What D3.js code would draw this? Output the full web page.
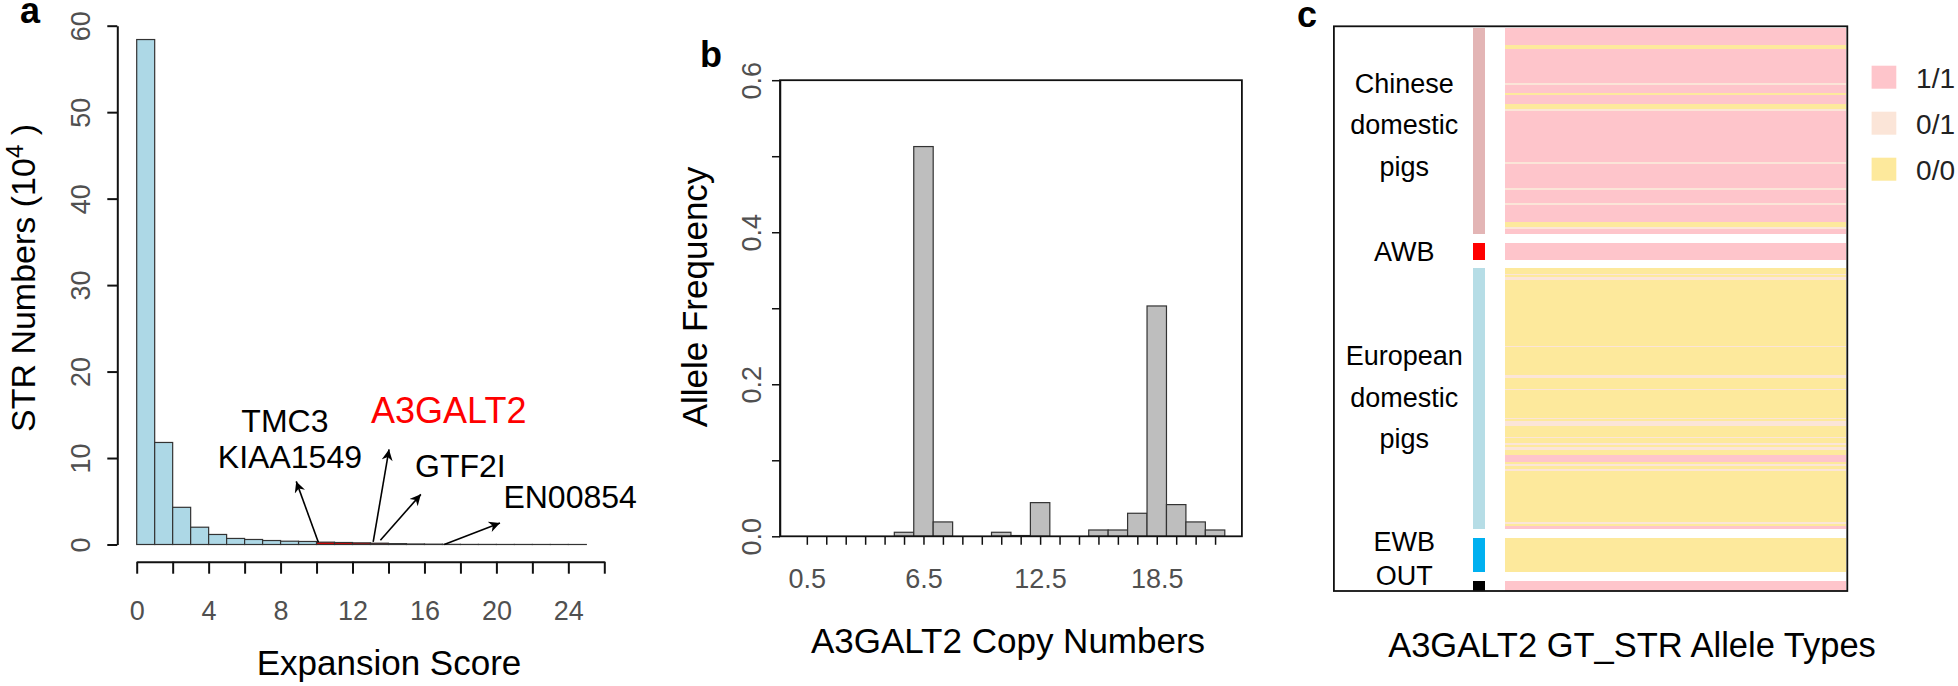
<!DOCTYPE html>
<html>
<head>
<meta charset="utf-8">
<script src="https://cdn.jsdelivr.net/npm/d3@7"></script>
<style>
body { margin: 0; background: #fff; }
svg { display: block; font-family: "Liberation Sans", Arial, Helvetica, sans-serif; }
</style>
</head>
<body>
<div id="fig"></div>
<script>

// ---- panel a : expansion score histogram (counts in 10^4)
var scoreBins = [0,1,2,3,4,5,6,7,8,9,10,11,12,13,14,15,16,17,18,19,20,21,22,23,24];
var strCounts = [58.4,11.8,4.3,2.0,1.16,0.7,0.58,0.46,0.38,0.35,0.27,0.23,0.19,0.15,0.1,0.06,0.04,0.02,0.01,0.01,0.005,0.005,0.003,0.002,0.001];
var redBins = [10,11,12,13];
var scoreTicks = [0,2,4,6,8,10,12,14,16,18,20,22,24,26];
var countTicks = [0,10,20,30,40,50,60];

var geneLabels = ["TMC3","KIAA1549","A3GALT2","GTF2I","EN00854"];
var geneLabelX = [8.24, 8.52, 17.35, 18.0, 24.1];
var geneLabelY = [13.0, 8.84, 14.05, 7.84, 4.2];
var geneColors = ["#000","#000","#ff0000","#000","#000"];
var arrowFrom = [[10.1,0.25],[13.15,0.3],[13.55,0.5],[17.1,0]];
var arrowTo   = [[8.87,7.3],[14.03,11.0],[15.8,5.8],[20.2,2.5]];

// ---- panel b : copy number frequencies
var copyNumbers = [0.5,1.5,2.5,3.5,4.5,5.5,6.5,7.5,8.5,9.5,10.5,11.5,12.5,13.5,14.5,15.5,16.5,17.5,18.5,19.5,20.5,21.5];
var alleleFreq  = [0,0,0,0,0,0.0053,0.5127,0.0189,0,0,0.0053,0.001,0.0443,0,0,0.0083,0.0083,0.0303,0.303,0.0417,0.0189,0.0083];
var copyLabels = [0.5,6.5,12.5,18.5];
var freqTicks = [0,0.1,0.2,0.3,0.4,0.5,0.6];

// ---- panel c : genotype runs per group (rows of samples)
var groups = ["Chinese domestic pigs","AWB","European domestic pigs","EWB","OUT"];
var groupColors = ["#e3b5b5","#ff0000","#b6dde6","#00b0f0","#000000"];
var genotypes = ["1/1","0/1","0/0"];
var genotypeColors = ["#fec5cb","#fbe5d8","#fde99c"];
var chineseRuns = [["1/1",10],["0/0",2],["1/1",20],["0/1",1],["1/1",5],["0/0",1],["1/1",5],["0/0",3],["0/1",1],
  ["1/1",30],["0/1",1],["1/1",14],["0/1",1],["1/1",8],["0/1",1],["1/1",10],["0/0",3],["0/1",1],["1/1",3]];
var awbRuns = [["1/1",10]];
var europeanRuns = [["0/0",3],["0/1",1],["0/0",1],["0/1",2],["0/0",38],["0/1",1],["0/0",16],["0/1",2],["0/0",6],["0/1",1],
  ["0/0",16],["0/1",1],["0/0",1],["0/1",3],["0/0",6],["0/1",1],["0/0",3],["0/1",1],["0/0",1],["0/1",2],["0/0",3],
  ["1/1",4],["0/0",1],["0/1",1],["0/0",2],["0/1",1],["0/0",30],["0/1",1],["0/0",1],["1/1",2]];
var ewbRuns = [["0/0",20]];
var outRuns = [["1/1",6]];

var svg = d3.select("#fig").append("svg")
    .attr("width", 1958)
    .attr("height", 686);

svg.append("rect").attr("width",1958).attr("height",686).attr("fill","#fff");

function styleTicks(g, size) {
    g.attr("font-family", null).attr("font-size", null);
    g.selectAll("text").attr("font-size", size).attr("fill", "#505050");
}

// =================== panel a
var xa = d3.scaleLinear().domain([0, 26]).range([136.7, 604.3]);
var ya = d3.scaleLinear().domain([0, 60]).range([544.5, 25.7]);
var ga = svg.append("g");

ga.append("g")
    .attr("transform", "translate(117.3,0)")
    .call(d3.axisLeft(ya).tickValues(countTicks).tickSize(10).tickSizeOuter(0))
    .call(function(g) {
        styleTicks(g, 27);
        g.selectAll(".domain, .tick line").attr("stroke-width", 2).attr("stroke", "#111");
        g.selectAll("text").attr("transform", "rotate(-90)")
            .attr("x", 0).attr("y", -27).attr("dy", 0).attr("text-anchor", "middle");
    });

ga.append("g")
    .attr("transform", "translate(0,561.7)")
    .call(d3.axisBottom(xa).tickValues(scoreTicks).tickSize(12).tickSizeOuter(0)
        .tickFormat(function(d){ return d % 4 === 0 ? d : ""; }))
    .call(function(g) {
        styleTicks(g, 27);
        g.selectAll(".domain, .tick line").attr("stroke-width", 2).attr("stroke", "#111");
        g.selectAll("text").attr("y", 58.5).attr("dy", 0);
    });

ga.selectAll("rect.bar")
    .data(strCounts)
    .enter()
    .append("rect")
        .attr("class", "bar")
        .attr("x", function(d, i){ return xa(scoreBins[i]); })
        .attr("width", xa(1) - xa(0))
        .attr("y", function(d){ return ya(d); })
        .attr("height", function(d){ return ya(0) - ya(d); })
        .attr("fill", function(d, i){ return redBins.indexOf(scoreBins[i]) >= 0 ? "#dd0000" : "#add8e6"; })
        .attr("stroke", "#333")
        .attr("stroke-width", 1.2);

svg.append("defs").append("marker")
    .attr("id", "arr")
    .attr("viewBox", "0 0 10 10")
    .attr("refX", 10).attr("refY", 5)
    .attr("markerUnits", "userSpaceOnUse")
    .attr("markerWidth", 13).attr("markerHeight", 11)
    .attr("orient", "auto")
    .append("path").attr("d", "M0,0 L10,5 L0,10 L3,5 z").attr("fill", "#000");

ga.selectAll("line.arrow")
    .data(arrowFrom)
    .enter()
    .append("line")
        .attr("x1", function(d){ return xa(d[0]); })
        .attr("y1", function(d){ return ya(d[1]); })
        .attr("x2", function(d, i){ return xa(arrowTo[i][0]); })
        .attr("y2", function(d, i){ return ya(arrowTo[i][1]); })
        .attr("stroke", "#000")
        .attr("stroke-width", 1.6)
        .attr("marker-end", "url(#arr)");

ga.selectAll("text.gene")
    .data(geneLabels)
    .enter()
    .append("text")
        .attr("x", function(d, i){ return xa(geneLabelX[i]); })
        .attr("y", function(d, i){ return ya(geneLabelY[i]); })
        .attr("text-anchor", "middle")
        .attr("font-size", function(d){ return d === "A3GALT2" ? 36 : 32; })
        .attr("fill", function(d, i){ return geneColors[i]; })
        .text(function(d){ return d; });

var yta = ga.append("text")
    .attr("transform", "translate(35,278) rotate(-90)")
    .attr("text-anchor", "middle")
    .attr("font-size", 34)
    .text("STR Numbers (10");
yta.append("tspan").attr("font-size", 24).attr("dy", -12).text("4");
yta.append("tspan").attr("dy", 12).text(" )");

ga.append("text").attr("x", 389).attr("y", 675).attr("text-anchor", "middle")
    .attr("font-size", 35).text("Expansion Score");

svg.append("text").attr("x", 20).attr("y", 23).attr("font-size", 36)
    .attr("font-weight", "bold").text("a");

// =================== panel b
var xb = d3.scaleLinear().domain([-0.88, 22.88]).range([780, 1241.9]);
var yb = d3.scaleLinear().domain([0, 0.6]).range([536.3, 80.2]);
var gb = svg.append("g");

gb.append("g")
    .attr("transform", "translate(780,0)")
    .call(d3.axisLeft(yb).tickValues(freqTicks).tickSize(8).tickSizeOuter(0)
        .tickFormat(function(d, i){ return i % 2 === 0 ? d3.format(".1f")(d) : ""; }))
    .call(function(g) {
        styleTicks(g, 27);
        g.selectAll(".domain, .tick line").attr("stroke-width", 1.5).attr("stroke", "#111");
        g.selectAll("text").attr("transform", "rotate(-90)")
            .attr("x", 0).attr("y", -19).attr("dy", 0).attr("text-anchor", "middle");
    });

gb.append("g")
    .attr("transform", "translate(0,536.3)")
    .call(d3.axisBottom(xb).tickValues(copyNumbers).tickSize(8.5).tickSizeOuter(0)
        .tickFormat(function(d){ return copyLabels.indexOf(d) >= 0 ? d : ""; }))
    .call(function(g) {
        styleTicks(g, 27);
        g.select(".domain").remove();
        g.selectAll(".tick line").attr("stroke-width", 1.5).attr("stroke", "#111");
        g.selectAll("text").attr("y", 52).attr("dy", 0);
    });

gb.selectAll("rect.cn")
    .data(alleleFreq)
    .enter()
    .append("rect")
        .attr("class", "cn")
        .attr("x", function(d, i){ return xb(copyNumbers[i] - 0.5); })
        .attr("width", xb(1) - xb(0))
        .attr("y", function(d){ return yb(d); })
        .attr("height", function(d){ return yb(0) - yb(d); })
        .attr("fill", "#bebebe")
        .attr("stroke", "#333")
        .attr("stroke-width", 1.2);

gb.append("rect")
    .attr("x", xb.range()[0]).attr("y", yb.range()[1])
    .attr("width", xb.range()[1] - xb.range()[0])
    .attr("height", yb.range()[0] - yb.range()[1])
    .attr("fill", "none").attr("stroke", "#111").attr("stroke-width", 1.8);

gb.append("text")
    .attr("transform", "translate(707,297) rotate(-90)")
    .attr("text-anchor", "middle").attr("font-size", 35)
    .text("Allele Frequency");

gb.append("text").attr("x", 1008).attr("y", 653).attr("text-anchor", "middle")
    .attr("font-size", 35).text("A3GALT2 Copy Numbers");

svg.append("text").attr("x", 700).attr("y", 67).attr("font-size", 36)
    .attr("font-weight", "bold").text("b");

// =================== panel c
var groupRuns = [chineseRuns, awbRuns, europeanRuns, ewbRuns, outRuns];
var gap = 5;
var rows = [];
var spans = [];
var pos = 0;
groupRuns.forEach(function(runs, gi) {
    var start = pos;
    runs.forEach(function(r) {
        rows.push({group: gi, gt: r[0], start: pos, n: r[1]});
        pos += r[1];
    });
    spans.push({group: gi, start: start, end: pos});
    pos += gap;
});
var total = pos - gap;

var xc = d3.scaleLinear().domain([0, 100]).range([1333.9, 1847.3]);
var yc = d3.scaleLinear().domain([0, total]).range([28.3, 591]);
var gtColor = d3.scaleOrdinal().domain(genotypes).range(genotypeColors);
var gc = svg.append("g");

gc.selectAll("rect.gt")
    .data(rows)
    .enter()
    .append("rect")
        .attr("x", xc(33.3))
        .attr("width", xc(99.7) - xc(33.3))
        .attr("y", function(d){ return yc(d.start); })
        .attr("height", function(d){ return yc(d.start + d.n) - yc(d.start); })
        .attr("fill", function(d){ return gtColor(d.gt); })
        .attr("shape-rendering", "crispEdges");

gc.selectAll("rect.grp")
    .data(spans)
    .enter()
    .append("rect")
        .attr("x", xc(27.1))
        .attr("width", xc(29.4) - xc(27.1))
        .attr("y", function(d){ return yc(d.start); })
        .attr("height", function(d){ return yc(d.end) - yc(d.start); })
        .attr("fill", function(d){ return groupColors[d.group]; })
        .attr("shape-rendering", "crispEdges");

var nudge = [-7, 0, -2, -14, -11];
spans.forEach(function(s) {
    var words = groups[s.group].split(" ");
    var lines = words.length > 1 ? words : [groups[s.group]];
    var mid = (yc(s.start) + yc(s.end)) / 2 + nudge[s.group];
    lines.forEach(function(w, li) {
        gc.append("text")
            .attr("x", xc(13.7))
            .attr("y", mid + (li - (lines.length - 1) / 2) * 41.5 + 10)
            .attr("text-anchor", "middle")
            .attr("font-size", 27)
            .text(w);
    });
});

gc.append("rect")
    .attr("x", xc(0)).attr("y", 26.3)
    .attr("width", xc(100) - xc(0)).attr("height", 591 - 26.3)
    .attr("fill", "none").attr("stroke", "#111").attr("stroke-width", 1.8);

var leg = gc.selectAll("g.leg")
    .data(genotypes)
    .enter()
    .append("g")
        .attr("transform", function(d, i){ return "translate(1871.6," + (65.7 + i * 46) + ")"; });
leg.append("rect").attr("width", 24.7).attr("height", 23)
    .attr("fill", function(d){ return gtColor(d); });
leg.append("text").attr("x", 44.5).attr("y", 22.5).attr("font-size", 28)
    .attr("fill", "#222").text(function(d){ return d; });

gc.append("text").attr("x", 1632).attr("y", 656.5).attr("text-anchor", "middle")
    .attr("font-size", 34.5).text("A3GALT2 GT_STR Allele Types");

svg.append("text").attr("x", 1297).attr("y", 27).attr("font-size", 36)
    .attr("font-weight", "bold").text("c");

</script>
</body>
</html>
